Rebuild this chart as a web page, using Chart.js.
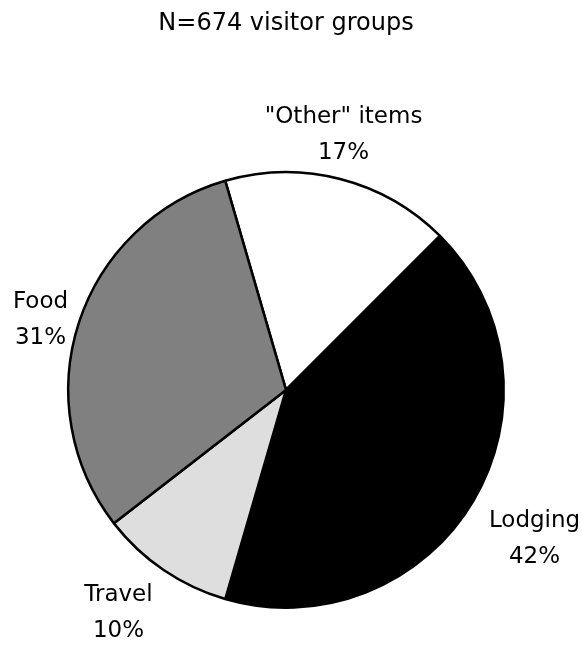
<!DOCTYPE html>
<html>
<head>
<meta charset="utf-8">
<script src="https://cdn.jsdelivr.net/npm/chart.js@4.4.1/dist/chart.umd.min.js"></script>
<style>
  html, body { margin: 0; padding: 0; background: #fff; }
</style>
</head>
<body>
<canvas id="chartPie" width="582" height="646"></canvas>
<script>
// data
const titleText = 'N=674 visitor groups';
const categories = ['"Other" items', 'Lodging', 'Travel', 'Food'];
const shares = [17, 42, 10, 31];
const sliceColors = ['#ffffff', '#000000', '#dedede', '#808080'];

/**
 * Two-line labels outside each slice (name + percent)
 * placed along the slice's middle angle, nudged per slice
 */
const sliceLabels = {
  id: 'sliceLabels',
  afterDatasetsDraw(chart, args, opts) {
    const ctx = chart.ctx;
    const meta = chart.getDatasetMeta(0);
    const values = chart.data.datasets[0].data;

    ctx.save();
    ctx.font = opts.font;
    ctx.fillStyle = '#000';
    ctx.textAlign = 'center';
    ctx.textBaseline = 'alphabetic';

    meta.data.forEach((arc, i) => {
      let p = arc.getProps(['x', 'y', 'startAngle', 'endAngle', 'outerRadius'], true);
      let nudge = opts.nudge[i] || [0, 40];
      let mid = (p.startAngle + p.endAngle) / 2 + nudge[0] * Math.PI / 180;
      let r = p.outerRadius + nudge[1];
      let cx = p.x + Math.cos(mid) * r;
      let cy = p.y + Math.sin(mid) * r;
      ctx.fillText(chart.data.labels[i], cx, cy - 10);
      ctx.fillText(values[i] + '%', cx, cy + 26);
    });
    ctx.restore();
  }
};

let pie = new Chart(document.getElementById('chartPie').getContext('2d'), {
  type: 'pie',
  data: {
    labels: categories,
    datasets: [{
      data: shares,
      backgroundColor: sliceColors,
      borderColor: '#000',
      borderWidth: 2.5
    }]
  },
  options: {
    responsive: false,
    animation: false,
    rotation: -16.2,
    layout: { padding: { left: 67, right: 77, top: 0, bottom: 37 } },
    plugins: {
      legend: { display: false },
      tooltip: { enabled: false },
      title: {
        display: true,
        text: titleText,
        color: '#000',
        font: { family: '"DejaVu Sans"', size: 24, weight: 'normal', lineHeight: 1.2 },
        padding: { top: 9, bottom: 133 }
      },
      sliceLabels: {
        font: '23px "DejaVu Sans"',
        // [angle shift in degrees, distance past the rim]
        nudge: [[-1.8, 46], [0, 71], [2.9, 60], [-1.7, 38]]
      }
    }
  },
  plugins: [sliceLabels]
});
</script>
</body>
</html>
